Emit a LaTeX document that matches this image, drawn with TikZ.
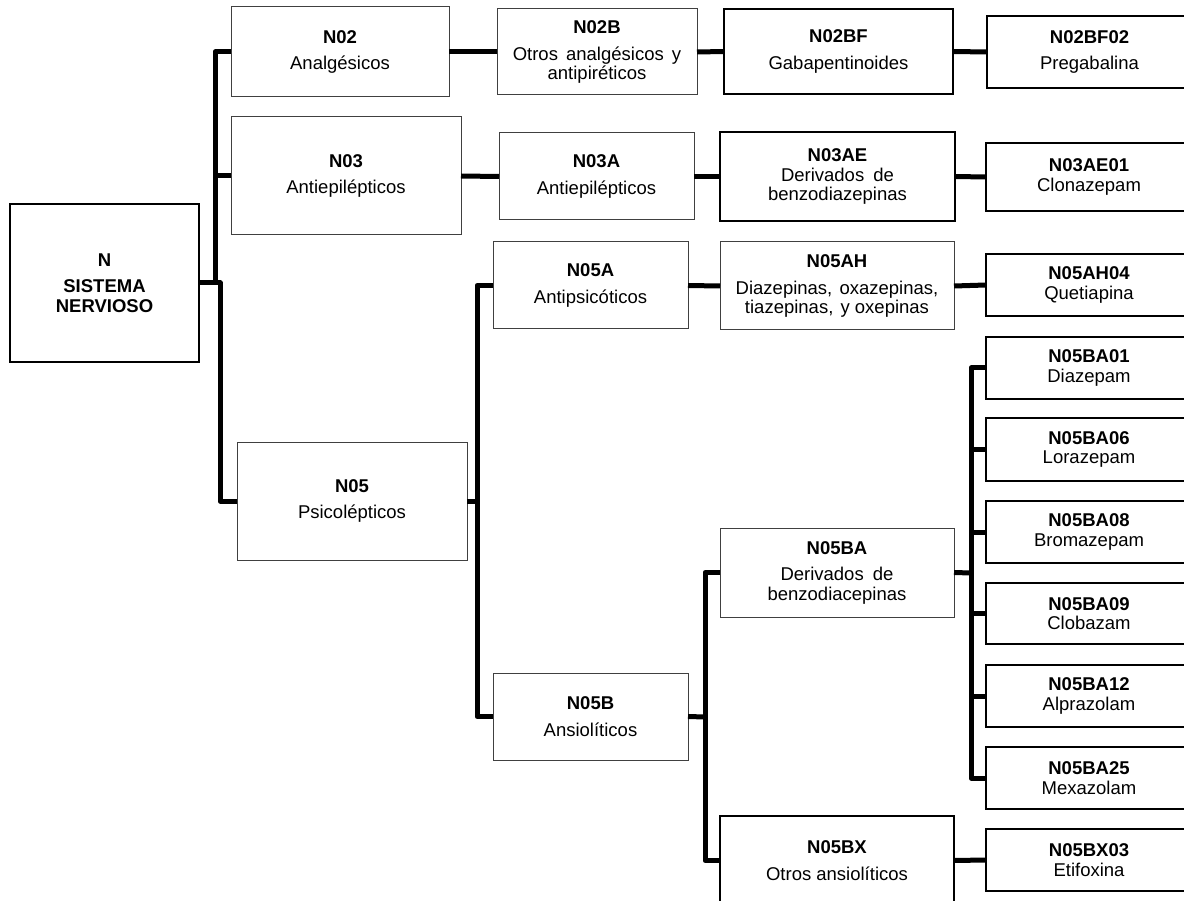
\documentclass[tikz,border=0pt]{standalone}
\usepackage{fontspec}
\setmainfont{Liberation Sans}
\tikzset{
  box/.style={draw=black!75, line width=1pt, rectangle, inner sep=0pt, outer sep=0pt,
    align=center, fill=white, font=\fontsize{18.5}{19.5}\selectfont},
  boxm/.style={box, draw=black, line width=1.7pt},
  boxb/.style={box, draw=black, line width=2.2pt},
  conn/.style={line width=5pt, line join=round}
}
\newcommand{\bx}[7]{\node[#6, minimum width={(#4-#2)*1pt}, minimum height={(#5-#3)*1pt}] (#1) at ({(#2+#4)/2},{(#3+#5)/2}) {#7};}
\newcommand{\ttl}[1]{\textbf{#1}\\[7pt]}
\begin{document}
\begin{tikzpicture}[x=1pt,y=-1pt]
\useasboundingbox (0,0) rectangle (1184,901);
% level 0
\bx{N}{10}{204}{199}{362}{boxm}{\textbf{N}\\[7pt]\textbf{SISTEMA}\\\textbf{NERVIOSO}}
% level 1
\bx{N02}{231}{7}{449}{97}{box}{\ttl{N02}Analgésicos}
\bx{N03}{231}{117}{461}{235}{box}{\ttl{N03}Antiepilépticos}
\bx{N05}{237}{442}{467}{560}{box}{\ttl{N05}Psicolépticos}
% level 2
\bx{N02B}{497}{9}{697}{95}{box}{\ttl{N02B}Otros\hspace{3pt} analgésicos\hspace{3pt} y\\antipiréticos}
\bx{N03A}{499}{133}{694}{220}{box}{\ttl{N03A}Antiepilépticos}
\bx{N05A}{493}{242}{688}{329}{box}{\ttl{N05A}Antipsicóticos}
\bx{N05B}{493}{673}{688}{760}{box}{\ttl{N05B}Ansiolíticos}
% level 3
\bx{N02BF}{724}{9}{953}{94}{boxb}{\ttl{N02BF}Gabapentinoides}
\bx{N03AE}{720}{132}{955}{221}{boxb}{\textbf{N03AE}\\Derivados\hspace{4pt} de\\benzodiazepinas}
\bx{N05AH}{720}{242}{954}{330}{box}{\ttl{N05AH}Diazepinas,\hspace{2pt} oxazepinas,\\tiazepinas,\hspace{2pt} y oxepinas}
\bx{N05BA}{720}{528}{954}{617}{box}{\ttl{N05BA}Derivados\hspace{4pt} de\\benzodiacepinas}
\bx{N05BX}{720}{816}{954}{905}{boxm}{\ttl{N05BX}Otros ansiolíticos}
% level 4
\bx{N02BF02}{987}{16}{1192}{88}{boxb}{\ttl{N02BF02}Pregabalina}
\bx{N03AE01}{986}{143}{1192}{211}{boxb}{\textbf{N03AE01}\\Clonazepam}
\bx{N05AH04}{986}{254}{1192}{316}{boxb}{\textbf{N05AH04}\\Quetiapina}
\bx{N05BA01}{986}{337}{1192}{399}{boxb}{\textbf{N05BA01}\\Diazepam}
\bx{N05BA06}{986}{418}{1192}{481}{boxb}{\textbf{N05BA06}\\Lorazepam}
\bx{N05BA08}{986}{501}{1192}{563}{boxb}{\textbf{N05BA08}\\Bromazepam}
\bx{N05BA09}{986}{583}{1192}{644}{boxb}{\textbf{N05BA09}\\Clobazam}
\bx{N05BA12}{986}{665}{1192}{727}{boxb}{\textbf{N05BA12}\\Alprazolam}
\bx{N05BA25}{986}{747}{1192}{809}{boxb}{\textbf{N05BA25}\\Mexazolam}
\bx{N05BX03}{986}{829}{1192}{891}{boxb}{\textbf{N05BX03}\\Etifoxina}
% buses
\coordinate (b1) at (215,283);
\coordinate (b2) at (220,283);
\coordinate (b3) at (477,501);
\coordinate (b4) at (705,717);
\coordinate (b5) at (971,573);
\draw[conn] (N02.west) -| (b1);
\draw[conn] (N03.west) -- (N03.west -| b1);
\draw[conn] (N.east) -- (b2) |- (N05.west);
\draw[conn] (N05.east) -- (b3);
\draw[conn] (N05A.west) -| (b3) |- (N05B.west);
\draw[conn] (N05B.east) -- (b4);
\draw[conn] (N05BA.west) -| (b4) |- (N05BX.west);
\draw[conn] (N05BA.east) -- (b5);
\draw[conn] (N05BA01.west) -| (b5) |- (N05BA25.west);
\foreach \n in {N05BA06,N05BA08,N05BA09,N05BA12} \draw[conn] (\n.west) -- (\n.west -| b5);
% rows
\draw[conn] (N02.east) -- (N02B.west);
\draw[conn] (N02B.east) -- (N02BF.west);
\draw[conn] (N02BF.east) -- (N02BF02.west);
\draw[conn] (N03.east) -- (N03A.west);
\draw[conn] (N03A.east) -- (N03AE.west);
\draw[conn] (N03AE.east) -- (N03AE01.west);
\draw[conn] (N05A.east) -- (N05AH.west);
\draw[conn] (N05AH.east) -- (N05AH04.west);
\draw[conn] (N05BX.east) -- (N05BX03.west);
\end{tikzpicture}
\end{document}
